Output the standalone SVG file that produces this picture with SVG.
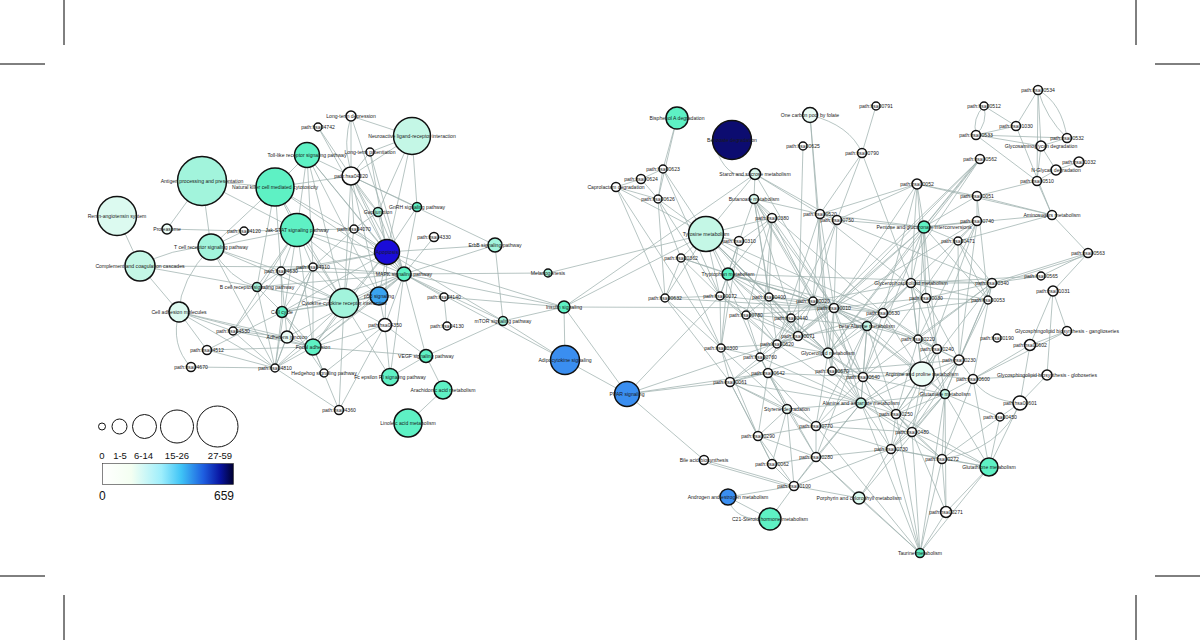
<svg xmlns="http://www.w3.org/2000/svg" width="1200" height="640" viewBox="0 0 1200 640">
<style>
.e line,.e path{stroke:#9fb1af;stroke-width:.75;fill:none}
.n{stroke:#111;stroke-width:1.5}
.t{font-family:"Liberation Sans",Arial,sans-serif;font-size:5.1px;fill:#1a1a1a;text-anchor:middle}
.w{fill:#fff}.l0{fill:#ecfdf7}.l1{fill:#dcfaf0}.l2{fill:#c4f7e6}.l3{fill:#a2f4dc}.g{fill:#5ef1c4}
.b1{fill:#3aa4f0}.b2{fill:#3a8ef0}.b3{fill:#1a0cd8}.b4{fill:#0c0c70}
.crop{stroke:#000;stroke-width:1}
.lg{font-family:"Liberation Sans",Arial,sans-serif;fill:#111}
</style>
<defs>
<linearGradient id="cg" x1="0" x2="1" y1="0" y2="0">
<stop offset="0" stop-color="#ffffff"/>
<stop offset="0.22" stop-color="#f4fff2"/>
<stop offset="0.45" stop-color="#9eeefc"/>
<stop offset="0.6" stop-color="#3fc4f6"/>
<stop offset="0.77" stop-color="#1e5ee0"/>
<stop offset="0.9" stop-color="#0814a0"/>
<stop offset="1" stop-color="#000030"/>
</linearGradient>
</defs>
<rect width="1200" height="640" fill="#fff"/>
<g id="cropmarks">
<line class="crop" x1="64" y1="0" x2="64" y2="45"/><line class="crop" x1="0" y1="64" x2="45" y2="64"/>
<line class="crop" x1="1136" y1="0" x2="1136" y2="45"/><line class="crop" x1="1155" y1="64" x2="1200" y2="64"/>
<line class="crop" x1="64" y1="595" x2="64" y2="640"/><line class="crop" x1="0" y1="576" x2="45" y2="576"/>
<line class="crop" x1="1136" y1="595" x2="1136" y2="640"/><line class="crop" x1="1155" y1="576" x2="1200" y2="576"/>
</g>
<g id="edges" class="e">
<line x1="202" y1="181" x2="275" y2="187"/><line x1="202" y1="181" x2="167" y2="229"/><line x1="202" y1="181" x2="211" y2="247"/><line x1="202" y1="181" x2="297" y2="230"/>
<path d="M211,247 Q170,248 140,266"/><path d="M211,247 Q180,280 179,312"/><path d="M211,247 Q230,280 257,287"/>
<line x1="117" y1="216" x2="140" y2="266"/><line x1="167" y1="229" x2="244" y2="231"/><line x1="244" y1="231" x2="297" y2="230"/><line x1="244" y1="231" x2="211" y2="247"/>
<line x1="211" y1="247" x2="275" y2="368"/><line x1="211" y1="247" x2="275" y2="187"/><line x1="211" y1="247" x2="297" y2="230"/><line x1="211" y1="247" x2="281" y2="271"/><line x1="211" y1="247" x2="344" y2="303"/>
<line x1="140" y1="266" x2="179" y2="312"/><line x1="140" y1="266" x2="257" y2="287"/><line x1="140" y1="266" x2="313" y2="267"/>
<line x1="179" y1="312" x2="233" y2="331"/><path d="M179,312 Q170,345 191,367"/><line x1="179" y1="312" x2="207" y2="350"/><line x1="179" y1="312" x2="287" y2="337"/><line x1="179" y1="312" x2="313" y2="347"/><line x1="179" y1="312" x2="275" y2="368"/>
<line x1="233" y1="331" x2="313" y2="347"/><line x1="233" y1="331" x2="287" y2="337"/><line x1="233" y1="331" x2="275" y2="368"/><line x1="233" y1="331" x2="297" y2="230"/><line x1="233" y1="331" x2="281" y2="271"/>
<line x1="207" y1="350" x2="313" y2="347"/><line x1="207" y1="350" x2="275" y2="368"/><line x1="207" y1="350" x2="282" y2="312"/><line x1="191" y1="367" x2="275" y2="368"/>
<line x1="275" y1="368" x2="313" y2="347"/><line x1="275" y1="368" x2="287" y2="337"/><line x1="275" y1="368" x2="282" y2="312"/><line x1="275" y1="368" x2="257" y2="287"/><line x1="275" y1="368" x2="297" y2="230"/><line x1="275" y1="368" x2="344" y2="303"/><line x1="275" y1="368" x2="313" y2="267"/><line x1="275" y1="368" x2="404" y2="274"/><line x1="275" y1="368" x2="339" y2="410"/>
<line x1="324" y1="373" x2="313" y2="347"/><line x1="324" y1="373" x2="385" y2="325"/><line x1="324" y1="373" x2="282" y2="312"/>
<line x1="339" y1="410" x2="385" y2="325"/><line x1="339" y1="410" x2="344" y2="303"/><line x1="339" y1="410" x2="313" y2="347"/>
<line x1="313" y1="347" x2="287" y2="337"/><line x1="313" y1="347" x2="282" y2="312"/><line x1="313" y1="347" x2="344" y2="303"/><line x1="313" y1="347" x2="385" y2="325"/><line x1="313" y1="347" x2="404" y2="274"/><line x1="313" y1="347" x2="426" y2="356"/><line x1="313" y1="347" x2="313" y2="267"/><line x1="313" y1="347" x2="297" y2="230"/><line x1="313" y1="347" x2="379" y2="296"/><line x1="313" y1="347" x2="387" y2="252"/>
<line x1="282" y1="312" x2="379" y2="296"/><line x1="282" y1="312" x2="344" y2="303"/><line x1="282" y1="312" x2="281" y2="271"/><line x1="282" y1="312" x2="313" y2="267"/><line x1="282" y1="312" x2="404" y2="274"/><line x1="282" y1="312" x2="387" y2="252"/><line x1="282" y1="312" x2="257" y2="287"/>
<line x1="287" y1="337" x2="404" y2="274"/><line x1="287" y1="337" x2="281" y2="271"/><line x1="287" y1="337" x2="313" y2="267"/>
<line x1="257" y1="287" x2="297" y2="230"/><line x1="257" y1="287" x2="281" y2="271"/><line x1="257" y1="287" x2="404" y2="274"/><line x1="257" y1="287" x2="344" y2="303"/><line x1="257" y1="287" x2="275" y2="187"/>
<line x1="281" y1="271" x2="297" y2="230"/><line x1="281" y1="271" x2="344" y2="303"/><line x1="281" y1="271" x2="313" y2="267"/><line x1="281" y1="271" x2="387" y2="252"/><line x1="281" y1="271" x2="404" y2="274"/><line x1="281" y1="271" x2="275" y2="187"/>
<line x1="313" y1="267" x2="297" y2="230"/><line x1="313" y1="267" x2="404" y2="274"/><line x1="313" y1="267" x2="387" y2="252"/><line x1="313" y1="267" x2="344" y2="303"/><line x1="313" y1="267" x2="354" y2="229"/><line x1="313" y1="267" x2="307" y2="155"/>
<line x1="297" y1="230" x2="344" y2="303"/><line x1="297" y1="230" x2="275" y2="187"/><line x1="297" y1="230" x2="307" y2="155"/><line x1="297" y1="230" x2="404" y2="274"/><line x1="297" y1="230" x2="387" y2="252"/><line x1="297" y1="230" x2="354" y2="229"/><line x1="297" y1="230" x2="379" y2="296"/>
<line x1="275" y1="187" x2="307" y2="155"/><line x1="275" y1="187" x2="344" y2="303"/><line x1="275" y1="187" x2="404" y2="274"/><line x1="275" y1="187" x2="387" y2="252"/><line x1="275" y1="187" x2="351" y2="176"/>
<line x1="307" y1="155" x2="351" y2="176"/><line x1="307" y1="155" x2="404" y2="274"/><line x1="307" y1="155" x2="387" y2="252"/><line x1="307" y1="155" x2="344" y2="303"/><line x1="307" y1="155" x2="379" y2="296"/>
<line x1="318" y1="127" x2="351" y2="176"/><line x1="318" y1="127" x2="387" y2="252"/>
<line x1="351" y1="116" x2="351" y2="176"/><line x1="351" y1="116" x2="412" y2="136"/><path d="M351,116 Q335,170 378,212"/><line x1="351" y1="116" x2="404" y2="274"/>
<line x1="370" y1="152" x2="351" y2="176"/><line x1="370" y1="152" x2="412" y2="136"/><line x1="370" y1="152" x2="404" y2="274"/><line x1="370" y1="152" x2="387" y2="252"/>
<line x1="412" y1="136" x2="351" y2="176"/><line x1="412" y1="136" x2="417" y2="207"/><line x1="412" y1="136" x2="378" y2="212"/><line x1="412" y1="136" x2="387" y2="252"/>
<line x1="351" y1="176" x2="378" y2="212"/><line x1="351" y1="176" x2="417" y2="207"/><line x1="351" y1="176" x2="404" y2="274"/><line x1="351" y1="176" x2="387" y2="252"/><line x1="351" y1="176" x2="495" y2="245"/><line x1="351" y1="176" x2="354" y2="229"/><line x1="351" y1="176" x2="344" y2="303"/><line x1="351" y1="176" x2="379" y2="296"/>
<line x1="378" y1="212" x2="404" y2="274"/><line x1="378" y1="212" x2="354" y2="229"/><line x1="378" y1="212" x2="387" y2="252"/>
<line x1="417" y1="207" x2="404" y2="274"/><line x1="417" y1="207" x2="387" y2="252"/>
<line x1="354" y1="229" x2="387" y2="252"/><line x1="354" y1="229" x2="404" y2="274"/><line x1="354" y1="229" x2="344" y2="303"/>
<line x1="434" y1="237" x2="404" y2="274"/>
<line x1="495" y1="245" x2="404" y2="274"/><line x1="495" y1="245" x2="503" y2="321"/><line x1="495" y1="245" x2="387" y2="252"/>
<line x1="387" y1="252" x2="404" y2="274"/><line x1="387" y1="252" x2="379" y2="296"/><line x1="387" y1="252" x2="344" y2="303"/><line x1="387" y1="252" x2="385" y2="325"/><line x1="387" y1="252" x2="564" y2="307"/><line x1="387" y1="252" x2="503" y2="321"/>
<line x1="404" y1="274" x2="379" y2="296"/><line x1="404" y1="274" x2="344" y2="303"/><line x1="404" y1="274" x2="385" y2="325"/><line x1="404" y1="274" x2="444" y2="297"/><line x1="404" y1="274" x2="548" y2="273"/><line x1="404" y1="274" x2="564" y2="307"/><line x1="404" y1="274" x2="503" y2="321"/><line x1="404" y1="274" x2="565" y2="360"/><line x1="404" y1="274" x2="426" y2="356"/><line x1="404" y1="274" x2="390" y2="377"/>
<line x1="444" y1="297" x2="447" y2="326"/><line x1="444" y1="297" x2="564" y2="307"/>
<line x1="379" y1="296" x2="385" y2="325"/><line x1="379" y1="296" x2="344" y2="303"/>
<line x1="344" y1="303" x2="385" y2="325"/><line x1="344" y1="303" x2="390" y2="377"/>
<line x1="385" y1="325" x2="426" y2="356"/><line x1="385" y1="325" x2="390" y2="377"/>
<line x1="503" y1="321" x2="564" y2="307"/><line x1="503" y1="321" x2="565" y2="360"/><line x1="503" y1="321" x2="426" y2="356"/>
<line x1="426" y1="356" x2="443" y2="390"/><line x1="426" y1="356" x2="390" y2="377"/><line x1="443" y1="390" x2="408" y2="423"/>
<line x1="548" y1="273" x2="706" y2="234"/><line x1="564" y1="307" x2="565" y2="360"/><line x1="564" y1="307" x2="627" y2="394"/><line x1="565" y1="360" x2="627" y2="394"/>
<line x1="564" y1="307" x2="834" y2="308"/><line x1="564" y1="307" x2="755" y2="174"/><line x1="564" y1="307" x2="706" y2="234"/>
<line x1="677" y1="118" x2="658" y2="199"/><line x1="677" y1="118" x2="663" y2="169"/><line x1="663" y1="169" x2="658" y2="199"/><line x1="663" y1="169" x2="641" y2="179"/><line x1="641" y1="179" x2="658" y2="199"/><line x1="641" y1="179" x2="616" y2="187"/>
<line x1="616" y1="187" x2="658" y2="199"/><line x1="616" y1="187" x2="706" y2="234"/><line x1="616" y1="187" x2="665" y2="298"/><line x1="616" y1="187" x2="721" y2="348"/>
<line x1="658" y1="199" x2="706" y2="234"/><line x1="658" y1="199" x2="681" y2="258"/><line x1="658" y1="199" x2="665" y2="298"/><line x1="658" y1="199" x2="720" y2="296"/><line x1="663" y1="169" x2="706" y2="234"/><line x1="663" y1="169" x2="720" y2="296"/>
<path d="M718,154 Q730,182 755,174"/>
<line x1="755" y1="174" x2="754" y2="199"/><line x1="755" y1="174" x2="820" y2="214"/><line x1="755" y1="174" x2="837" y2="220"/><line x1="755" y1="174" x2="706" y2="234"/><line x1="755" y1="174" x2="834" y2="308"/>
<line x1="754" y1="199" x2="772" y2="218"/><line x1="754" y1="199" x2="739" y2="241"/><line x1="754" y1="199" x2="813" y2="301"/><line x1="754" y1="199" x2="769" y2="297"/><line x1="754" y1="199" x2="820" y2="214"/><line x1="754" y1="199" x2="777" y2="344"/><line x1="754" y1="199" x2="863" y2="377"/><line x1="754" y1="199" x2="834" y2="308"/><line x1="754" y1="199" x2="798" y2="336"/><line x1="754" y1="199" x2="883" y2="313"/>
<line x1="803" y1="146" x2="798" y2="336"/>
<path d="M810,115 Q850,125 862,153"/><line x1="810" y1="115" x2="832" y2="371"/><line x1="810" y1="115" x2="828" y2="353"/>
<line x1="876" y1="106" x2="862" y2="153"/><line x1="862" y1="153" x2="837" y2="220"/><line x1="862" y1="153" x2="820" y2="214"/><line x1="862" y1="153" x2="911" y2="283"/>
<line x1="820" y1="214" x2="837" y2="220"/><line x1="820" y1="214" x2="813" y2="301"/><line x1="820" y1="214" x2="834" y2="308"/><line x1="820" y1="214" x2="924" y2="227"/><line x1="820" y1="214" x2="926" y2="298"/><line x1="820" y1="214" x2="777" y2="344"/>
<line x1="837" y1="220" x2="917" y2="184"/><line x1="837" y1="220" x2="834" y2="308"/><line x1="837" y1="220" x2="813" y2="301"/><line x1="837" y1="220" x2="791" y2="318"/><line x1="837" y1="220" x2="924" y2="227"/><line x1="837" y1="220" x2="992" y2="283"/>
<line x1="772" y1="218" x2="739" y2="241"/><line x1="772" y1="218" x2="769" y2="297"/><line x1="772" y1="218" x2="746" y2="315"/><line x1="772" y1="218" x2="813" y2="301"/><line x1="772" y1="218" x2="834" y2="308"/><line x1="772" y1="218" x2="760" y2="357"/>
<line x1="739" y1="241" x2="706" y2="234"/><line x1="739" y1="241" x2="728" y2="274"/><line x1="739" y1="241" x2="721" y2="348"/><line x1="739" y1="241" x2="720" y2="296"/>
<line x1="706" y1="234" x2="728" y2="274"/><line x1="706" y1="234" x2="681" y2="258"/><line x1="706" y1="234" x2="769" y2="297"/><line x1="706" y1="234" x2="665" y2="298"/><line x1="706" y1="234" x2="720" y2="296"/><line x1="706" y1="234" x2="760" y2="357"/><line x1="706" y1="234" x2="813" y2="301"/><line x1="706" y1="234" x2="828" y2="353"/><line x1="706" y1="234" x2="883" y2="313"/>
<line x1="706" y1="234" x2="772" y2="218"/><line x1="706" y1="234" x2="798" y2="336"/><line x1="706" y1="234" x2="791" y2="318"/>
<line x1="728" y1="274" x2="681" y2="258"/><line x1="728" y1="274" x2="720" y2="296"/><line x1="728" y1="274" x2="769" y2="297"/><line x1="728" y1="274" x2="772" y2="218"/><line x1="728" y1="274" x2="813" y2="301"/><line x1="728" y1="274" x2="834" y2="308"/><line x1="728" y1="274" x2="992" y2="283"/><line x1="728" y1="274" x2="883" y2="313"/><line x1="728" y1="274" x2="721" y2="348"/>
<line x1="728" y1="274" x2="798" y2="336"/><line x1="728" y1="274" x2="828" y2="353"/><line x1="728" y1="274" x2="777" y2="344"/>
<line x1="681" y1="258" x2="665" y2="298"/><line x1="681" y1="258" x2="720" y2="296"/><line x1="665" y1="298" x2="720" y2="296"/><line x1="665" y1="298" x2="721" y2="348"/>
<line x1="681" y1="258" x2="813" y2="301"/><line x1="681" y1="258" x2="721" y2="348"/><line x1="665" y1="298" x2="730" y2="382"/><line x1="665" y1="298" x2="834" y2="308"/>
<line x1="720" y1="296" x2="746" y2="315"/><line x1="720" y1="296" x2="721" y2="348"/><line x1="720" y1="296" x2="834" y2="308"/>
<line x1="720" y1="296" x2="777" y2="344"/><line x1="720" y1="296" x2="798" y2="336"/>
<line x1="769" y1="297" x2="813" y2="301"/><line x1="769" y1="297" x2="834" y2="308"/><line x1="769" y1="297" x2="791" y2="318"/><line x1="769" y1="297" x2="746" y2="315"/>
<line x1="769" y1="297" x2="798" y2="336"/><line x1="769" y1="297" x2="828" y2="353"/>
<line x1="813" y1="301" x2="834" y2="308"/><line x1="813" y1="301" x2="777" y2="344"/><line x1="813" y1="301" x2="798" y2="336"/><line x1="813" y1="301" x2="791" y2="318"/><line x1="813" y1="301" x2="867" y2="326"/><line x1="813" y1="301" x2="883" y2="313"/><line x1="813" y1="301" x2="911" y2="283"/>
<line x1="813" y1="301" x2="828" y2="353"/><line x1="813" y1="301" x2="861" y2="403"/><line x1="813" y1="301" x2="863" y2="377"/>
<line x1="834" y1="308" x2="883" y2="313"/><line x1="834" y1="308" x2="867" y2="326"/><line x1="834" y1="308" x2="828" y2="353"/><line x1="834" y1="308" x2="798" y2="336"/><line x1="834" y1="308" x2="777" y2="344"/><line x1="834" y1="308" x2="926" y2="298"/><line x1="834" y1="308" x2="924" y2="227"/><line x1="834" y1="308" x2="918" y2="339"/><line x1="834" y1="308" x2="937" y2="349"/><line x1="834" y1="308" x2="832" y2="371"/><line x1="834" y1="308" x2="922" y2="374"/><line x1="834" y1="308" x2="863" y2="377"/>
<line x1="834" y1="308" x2="861" y2="403"/><line x1="834" y1="308" x2="945" y2="394"/>
<line x1="746" y1="315" x2="791" y2="318"/><line x1="746" y1="315" x2="777" y2="344"/><line x1="746" y1="315" x2="760" y2="357"/><line x1="746" y1="315" x2="798" y2="336"/><line x1="746" y1="315" x2="834" y2="308"/>
<line x1="791" y1="318" x2="798" y2="336"/><line x1="791" y1="318" x2="777" y2="344"/><line x1="791" y1="318" x2="760" y2="357"/><line x1="791" y1="318" x2="867" y2="326"/><line x1="791" y1="318" x2="828" y2="353"/>
<line x1="798" y1="336" x2="777" y2="344"/><line x1="798" y1="336" x2="867" y2="326"/><line x1="798" y1="336" x2="828" y2="353"/><line x1="798" y1="336" x2="863" y2="377"/><line x1="798" y1="336" x2="730" y2="382"/>
<line x1="777" y1="344" x2="760" y2="357"/><line x1="777" y1="344" x2="721" y2="348"/><line x1="777" y1="344" x2="768" y2="373"/><line x1="777" y1="344" x2="828" y2="353"/><line x1="777" y1="344" x2="861" y2="403"/><line x1="777" y1="344" x2="883" y2="313"/>
<line x1="721" y1="348" x2="760" y2="357"/><line x1="721" y1="348" x2="730" y2="382"/><line x1="721" y1="348" x2="787" y2="409"/><line x1="721" y1="348" x2="758" y2="436"/>
<line x1="760" y1="357" x2="768" y2="373"/><line x1="760" y1="357" x2="730" y2="382"/><line x1="760" y1="357" x2="787" y2="409"/><line x1="760" y1="357" x2="861" y2="403"/><line x1="760" y1="357" x2="816" y2="457"/>
<line x1="828" y1="353" x2="832" y2="371"/><line x1="828" y1="353" x2="863" y2="377"/><line x1="828" y1="353" x2="867" y2="326"/><line x1="828" y1="353" x2="911" y2="283"/><line x1="828" y1="353" x2="730" y2="382"/><line x1="828" y1="353" x2="861" y2="403"/><line x1="828" y1="353" x2="816" y2="426"/>
<line x1="832" y1="371" x2="863" y2="377"/><line x1="832" y1="371" x2="922" y2="374"/><line x1="832" y1="371" x2="959" y2="360"/><line x1="832" y1="371" x2="861" y2="403"/><line x1="832" y1="371" x2="896" y2="414"/>
<line x1="768" y1="373" x2="730" y2="382"/><line x1="768" y1="373" x2="787" y2="409"/><line x1="768" y1="373" x2="861" y2="403"/><line x1="768" y1="373" x2="863" y2="377"/><line x1="768" y1="373" x2="758" y2="436"/><line x1="768" y1="373" x2="816" y2="426"/>
<line x1="730" y1="382" x2="787" y2="409"/><line x1="730" y1="382" x2="861" y2="403"/><line x1="730" y1="382" x2="758" y2="436"/><line x1="730" y1="382" x2="816" y2="426"/><line x1="730" y1="382" x2="772" y2="464"/>
<line x1="867" y1="326" x2="883" y2="313"/><line x1="867" y1="326" x2="911" y2="283"/><line x1="867" y1="326" x2="863" y2="377"/><line x1="867" y1="326" x2="861" y2="403"/><line x1="867" y1="326" x2="816" y2="426"/><line x1="867" y1="326" x2="816" y2="457"/>
<line x1="867" y1="326" x2="922" y2="374"/><line x1="867" y1="326" x2="918" y2="339"/><line x1="867" y1="326" x2="896" y2="414"/>
<line x1="883" y1="313" x2="911" y2="283"/><line x1="883" y1="313" x2="926" y2="298"/><line x1="883" y1="313" x2="918" y2="339"/><line x1="883" y1="313" x2="937" y2="349"/><line x1="883" y1="313" x2="988" y2="300"/><line x1="883" y1="313" x2="922" y2="374"/><line x1="883" y1="313" x2="863" y2="377"/>
<line x1="911" y1="283" x2="926" y2="298"/><line x1="911" y1="283" x2="992" y2="283"/><line x1="911" y1="283" x2="988" y2="300"/><line x1="911" y1="283" x2="924" y2="227"/><line x1="911" y1="283" x2="917" y2="184"/><line x1="911" y1="283" x2="918" y2="339"/><line x1="911" y1="283" x2="937" y2="349"/><line x1="911" y1="283" x2="922" y2="374"/>
<line x1="926" y1="298" x2="988" y2="300"/><line x1="926" y1="298" x2="924" y2="227"/><line x1="926" y1="298" x2="937" y2="349"/><line x1="926" y1="298" x2="959" y2="360"/><line x1="926" y1="298" x2="992" y2="283"/>
<line x1="988" y1="300" x2="992" y2="283"/><line x1="988" y1="300" x2="924" y2="227"/><line x1="988" y1="300" x2="959" y2="360"/><line x1="988" y1="300" x2="958" y2="241"/>
<line x1="992" y1="283" x2="958" y2="241"/><line x1="992" y1="283" x2="1088" y2="253"/><line x1="992" y1="285" x2="1088" y2="255"/><line x1="992" y1="283" x2="1041" y2="276"/><line x1="992" y1="283" x2="959" y2="360"/><line x1="992" y1="283" x2="918" y2="339"/><line x1="992" y1="283" x2="863" y2="377"/>
<line x1="992" y1="283" x2="922" y2="374"/><line x1="992" y1="283" x2="973" y2="379"/><line x1="992" y1="283" x2="945" y2="394"/>
<line x1="1041" y1="276" x2="1088" y2="253"/><line x1="1041" y1="276" x2="911" y2="283"/>
<line x1="958" y1="241" x2="924" y2="227"/><line x1="958" y1="241" x2="977" y2="221"/><line x1="958" y1="241" x2="959" y2="360"/><line x1="958" y1="241" x2="1052" y2="215"/><line x1="958" y1="241" x2="863" y2="377"/>
<line x1="977" y1="221" x2="911" y2="283"/><line x1="977" y1="221" x2="959" y2="360"/><line x1="977" y1="221" x2="922" y2="374"/><line x1="977" y1="221" x2="834" y2="308"/><line x1="977" y1="221" x2="918" y2="339"/>
<line x1="924" y1="227" x2="917" y2="184"/><line x1="924" y1="227" x2="977" y2="196"/><line x1="924" y1="227" x2="977" y2="221"/><line x1="924" y1="227" x2="980" y2="159"/><line x1="922" y1="229" x2="978" y2="160"/><line x1="924" y1="227" x2="1052" y2="215"/><line x1="924" y1="227" x2="918" y2="339"/><line x1="924" y1="227" x2="863" y2="377"/><line x1="924" y1="227" x2="828" y2="353"/><line x1="924" y1="227" x2="798" y2="336"/><line x1="924" y1="227" x2="937" y2="349"/>
<line x1="980" y1="159" x2="867" y2="326"/><line x1="980" y1="159" x2="834" y2="308"/><line x1="980" y1="159" x2="828" y2="353"/><line x1="980" y1="159" x2="798" y2="336"/>
<line x1="917" y1="184" x2="977" y2="196"/><line x1="917" y1="184" x2="820" y2="214"/><line x1="917" y1="184" x2="926" y2="298"/><line x1="917" y1="184" x2="883" y2="313"/><line x1="917" y1="184" x2="834" y2="308"/>
<line x1="977" y1="196" x2="977" y2="221"/><line x1="977" y1="196" x2="1037" y2="181"/><line x1="977" y1="196" x2="1052" y2="215"/><line x1="977" y1="196" x2="988" y2="300"/>
<line x1="1052" y1="215" x2="1037" y2="181"/><line x1="1052" y1="215" x2="1088" y2="253"/><line x1="1052" y1="215" x2="917" y2="184"/>
<line x1="1088" y1="253" x2="1053" y2="291"/><line x1="1053" y1="291" x2="1067" y2="331"/><line x1="1053" y1="291" x2="1030" y2="345"/><line x1="1053" y1="291" x2="1047" y2="375"/>
<line x1="1067" y1="331" x2="1030" y2="345"/><line x1="1067" y1="331" x2="973" y2="379"/><line x1="1030" y1="345" x2="973" y2="379"/><line x1="1030" y1="345" x2="1020" y2="403"/>
<line x1="1047" y1="375" x2="973" y2="379"/><line x1="1047" y1="375" x2="1020" y2="403"/><path d="M973,379 Q985,400 1020,403"/>
<line x1="1038" y1="90" x2="1016" y2="126"/><path d="M1038,90 Q1062,103 1067,138"/><path d="M1038,90 Q1046,118 1067,138"/><line x1="1038" y1="90" x2="1041" y2="146"/><line x1="1038" y1="90" x2="1037" y2="181"/>
<path d="M984,106 Q972,118 976,135"/><path d="M984,106 Q988,123 976,135"/><line x1="984" y1="106" x2="1016" y2="126"/>
<line x1="1016" y1="126" x2="976" y2="135"/><line x1="1016" y1="126" x2="1052" y2="215"/>
<line x1="976" y1="135" x2="1067" y2="138"/><line x1="976" y1="135" x2="1037" y2="181"/><line x1="976" y1="135" x2="1041" y2="146"/>
<line x1="1041" y1="146" x2="1056" y2="170"/><line x1="1041" y1="146" x2="1037" y2="181"/><line x1="1041" y1="146" x2="1067" y2="138"/>
<line x1="1079" y1="162" x2="1056" y2="170"/><line x1="1056" y1="170" x2="1037" y2="181"/>
<line x1="918" y1="339" x2="937" y2="349"/><line x1="918" y1="339" x2="922" y2="374"/><line x1="918" y1="339" x2="896" y2="414"/><line x1="918" y1="339" x2="945" y2="394"/><line x1="918" y1="339" x2="959" y2="360"/>
<line x1="937" y1="349" x2="959" y2="360"/><line x1="937" y1="349" x2="922" y2="374"/><line x1="937" y1="349" x2="896" y2="414"/><line x1="937" y1="349" x2="912" y2="432"/><line x1="937" y1="349" x2="945" y2="394"/><line x1="937" y1="349" x2="861" y2="403"/>
<line x1="959" y1="360" x2="973" y2="379"/><line x1="959" y1="360" x2="945" y2="394"/><line x1="959" y1="360" x2="891" y2="449"/><line x1="959" y1="360" x2="922" y2="374"/><line x1="959" y1="360" x2="896" y2="414"/><line x1="959" y1="360" x2="912" y2="432"/>
<line x1="922" y1="374" x2="945" y2="394"/><line x1="922" y1="374" x2="973" y2="379"/><line x1="922" y1="374" x2="863" y2="377"/><line x1="922" y1="374" x2="896" y2="414"/><line x1="922" y1="374" x2="861" y2="403"/><line x1="922" y1="374" x2="912" y2="432"/><line x1="922" y1="374" x2="891" y2="449"/>
<line x1="863" y1="377" x2="861" y2="403"/><line x1="863" y1="377" x2="896" y2="414"/><line x1="863" y1="377" x2="945" y2="394"/><line x1="863" y1="377" x2="912" y2="432"/><line x1="863" y1="377" x2="816" y2="426"/><line x1="863" y1="377" x2="891" y2="449"/>
<line x1="973" y1="379" x2="945" y2="394"/><line x1="973" y1="379" x2="942" y2="459"/><line x1="973" y1="379" x2="989" y2="467"/>
<line x1="945" y1="394" x2="896" y2="414"/><line x1="945" y1="394" x2="912" y2="432"/><line x1="945" y1="394" x2="861" y2="403"/><line x1="945" y1="394" x2="989" y2="467"/><line x1="945" y1="394" x2="942" y2="459"/><line x1="945" y1="394" x2="891" y2="449"/><line x1="945" y1="394" x2="920" y2="553"/><line x1="945" y1="394" x2="946" y2="512"/><line x1="945" y1="394" x2="859" y2="498"/>
<line x1="861" y1="403" x2="896" y2="414"/><line x1="861" y1="403" x2="816" y2="426"/><line x1="861" y1="403" x2="912" y2="432"/><line x1="861" y1="403" x2="891" y2="449"/><line x1="861" y1="403" x2="787" y2="409"/><line x1="861" y1="403" x2="816" y2="457"/><line x1="861" y1="403" x2="794" y2="486"/><line x1="861" y1="403" x2="942" y2="459"/><line x1="861" y1="403" x2="920" y2="553"/>
<line x1="787" y1="409" x2="816" y2="426"/><line x1="787" y1="409" x2="758" y2="436"/><line x1="787" y1="409" x2="772" y2="464"/><line x1="787" y1="409" x2="816" y2="457"/><line x1="787" y1="409" x2="794" y2="486"/>
<line x1="896" y1="414" x2="912" y2="432"/><line x1="896" y1="414" x2="816" y2="426"/><line x1="896" y1="414" x2="891" y2="449"/><line x1="896" y1="414" x2="989" y2="467"/><line x1="896" y1="414" x2="942" y2="459"/><line x1="896" y1="414" x2="920" y2="553"/>
<line x1="816" y1="426" x2="758" y2="436"/><line x1="816" y1="426" x2="816" y2="457"/><line x1="816" y1="426" x2="912" y2="432"/><line x1="816" y1="426" x2="891" y2="449"/><line x1="816" y1="426" x2="920" y2="553"/>
<line x1="912" y1="432" x2="891" y2="449"/><line x1="912" y1="432" x2="942" y2="459"/><line x1="912" y1="432" x2="989" y2="467"/><line x1="912" y1="432" x2="920" y2="553"/><line x1="912" y1="432" x2="946" y2="512"/>
<line x1="891" y1="449" x2="859" y2="498"/><line x1="891" y1="449" x2="942" y2="459"/><line x1="891" y1="449" x2="816" y2="457"/><line x1="891" y1="449" x2="794" y2="486"/><line x1="891" y1="449" x2="920" y2="553"/><line x1="891" y1="449" x2="989" y2="467"/>
<line x1="758" y1="436" x2="772" y2="464"/><line x1="758" y1="436" x2="816" y2="457"/><line x1="758" y1="436" x2="794" y2="486"/>
<line x1="816" y1="457" x2="794" y2="486"/><line x1="816" y1="457" x2="772" y2="464"/><line x1="816" y1="457" x2="920" y2="553"/>
<line x1="942" y1="459" x2="989" y2="467"/><line x1="942" y1="459" x2="946" y2="512"/><line x1="942" y1="459" x2="920" y2="553"/><line x1="942" y1="459" x2="1000" y2="417"/><path d="M1020,403 Q1000,450 942,459"/>
<line x1="772" y1="464" x2="794" y2="486"/>
<line x1="704" y1="460" x2="794" y2="486"/><line x1="704" y1="462" x2="794" y2="488"/><line x1="704" y1="460" x2="627" y2="394"/>
<line x1="794" y1="486" x2="770" y2="519"/><line x1="794" y1="486" x2="728" y2="497"/><line x1="794" y1="486" x2="859" y2="498"/>
<path d="M728,497 Q733,522 770,519"/><line x1="728" y1="497" x2="770" y2="519"/>
<line x1="859" y1="498" x2="920" y2="553"/><line x1="859" y1="498" x2="816" y2="457"/>
<line x1="946" y1="512" x2="920" y2="553"/><line x1="989" y1="467" x2="920" y2="553"/><line x1="989" y1="467" x2="946" y2="512"/>
<line x1="1000" y1="417" x2="945" y2="394"/><line x1="1000" y1="417" x2="1020" y2="403"/><line x1="989" y1="467" x2="1020" y2="403"/><line x1="989" y1="467" x2="1000" y2="417"/>
<line x1="627" y1="394" x2="730" y2="382"/><line x1="627" y1="394" x2="768" y2="373"/><line x1="627" y1="394" x2="720" y2="296"/><line x1="627" y1="394" x2="798" y2="336"/>
</g>
<g id="nodes">
<g id="n-ltd"><circle class="n w" cx="351" cy="116" r="5"/><text class="t" x="351" y="117.8">Long-term depression</text></g>
<g id="n-p4742"><circle class="n w" cx="318" cy="127" r="4"/><text class="t" x="318" y="128.8">path:hsa04742</text></g>
<g id="n-neuro"><circle class="n l2" cx="412" cy="136" r="18.5"/><text class="t" x="412" y="137.8">Neuroactive ligand-receptor interaction</text></g>
<g id="n-toll"><circle class="n g" cx="307" cy="155" r="12.5"/><text class="t" x="307" y="156.8">Toll-like receptor signaling pathway</text></g>
<g id="n-ltp"><circle class="n w" cx="370" cy="152" r="4"/><text class="t" x="370" y="153.8">Long-term potentiation</text></g>
<g id="n-p4020"><circle class="n w" cx="351" cy="176" r="9"/><text class="t" x="351" y="177.8">path:hsa04020</text></g>
<g id="n-antigen"><circle class="n l3" cx="202" cy="181" r="24.5"/><text class="t" x="202" y="182.8">Antigen processing and presentation</text></g>
<g id="n-nk"><circle class="n g" cx="275" cy="187" r="19"/><text class="t" x="275" y="188.8">Natural killer cell mediated cytotoxicity</text></g>
<g id="n-gnrh"><circle class="n g" cx="417" cy="207" r="4.5"/><text class="t" x="417" y="208.8">GnRH signaling pathway</text></g>
<g id="n-gap"><circle class="n l3" cx="378" cy="212" r="4.5"/><text class="t" x="378" y="213.8">Gap junction</text></g>
<g id="n-renin"><circle class="n l1" cx="117" cy="216" r="19.5"/><text class="t" x="117" y="217.8">Renin-angiotensin system</text></g>
<g id="n-protea"><circle class="n l0" cx="167" cy="229" r="5"/><text class="t" x="167" y="230.8">Proteasome</text></g>
<g id="n-p4120"><circle class="n w" cx="244" cy="231" r="4"/><text class="t" x="244" y="232.8">path:hsa04120</text></g>
<g id="n-jak"><circle class="n g" cx="297" cy="230" r="16.5"/><text class="t" x="297" y="231.8">Jak-STAT signaling pathway</text></g>
<g id="n-p4070"><circle class="n w" cx="354" cy="229" r="4"/><text class="t" x="354" y="230.8">path:hsa04070</text></g>
<g id="n-p4330"><circle class="n w" cx="434" cy="237" r="4.5"/><text class="t" x="434" y="238.8">path:hsa04330</text></g>
<g id="n-tcell"><circle class="n l3" cx="211" cy="247" r="13"/><text class="t" x="211" y="248.8">T cell receptor signaling pathway</text></g>
<g id="n-erbb"><circle class="n l3" cx="495" cy="245" r="7"/><text class="t" x="495" y="246.8">ErbB signaling pathway</text></g>
<g id="n-apop"><circle class="n b3" cx="387" cy="252" r="12.5"/><text class="t" x="387" y="253.8">Apoptosis</text></g>
<g id="n-compl"><circle class="n l2" cx="140" cy="266" r="15"/><text class="t" x="140" y="267.8">Complement and coagulation cascades</text></g>
<g id="n-p4630"><circle class="n w" cx="281" cy="271" r="4"/><text class="t" x="281" y="272.8">path:hsa04630</text></g>
<g id="n-p4910"><circle class="n w" cx="313" cy="267" r="4"/><text class="t" x="313" y="268.8">path:hsa04910</text></g>
<g id="n-mapk"><circle class="n g" cx="404" cy="274" r="7"/><text class="t" x="404" y="275.8">MAPK signaling pathway</text></g>
<g id="n-melano"><circle class="n l3" cx="548" cy="273" r="4"/><text class="t" x="548" y="274.8">Melanogenesis</text></g>
<g id="n-bcell"><circle class="n l3" cx="257" cy="287" r="4.5"/><text class="t" x="257" y="288.8">B cell receptor signaling pathway</text></g>
<g id="n-p53"><circle class="n b1" cx="379" cy="296" r="9"/><text class="t" x="379" y="297.8">p53 signaling</text></g>
<g id="n-p4140"><circle class="n w" cx="444" cy="297" r="4"/><text class="t" x="444" y="298.8">path:hsa04140</text></g>
<g id="n-cytok"><circle class="n l3" cx="344" cy="303" r="14.5"/><text class="t" x="344" y="304.8">Cytokine-cytokine receptor interaction</text></g>
<g id="n-insulin"><circle class="n g" cx="564" cy="307" r="6"/><text class="t" x="564" y="308.8">Insulin signaling</text></g>
<g id="n-cam"><circle class="n l1" cx="179" cy="312" r="10"/><text class="t" x="179" y="313.8">Cell adhesion molecules</text></g>
<g id="n-ccycle"><circle class="n g" cx="282" cy="312" r="5.5"/><text class="t" x="282" y="313.8">Cell cycle</text></g>
<g id="n-mtor"><circle class="n l3" cx="503" cy="321" r="4.5"/><text class="t" x="503" y="322.8">mTOR signaling pathway</text></g>
<g id="n-p4350"><circle class="n w" cx="385" cy="325" r="6.5"/><text class="t" x="385" y="326.8">path:hsa04350</text></g>
<g id="n-p4130"><circle class="n w" cx="447" cy="326" r="4"/><text class="t" x="447" y="327.8">path:hsa04130</text></g>
<g id="n-p4530"><circle class="n w" cx="233" cy="331" r="4"/><text class="t" x="233" y="332.8">path:hsa04530</text></g>
<g id="n-adher"><circle class="n l0" cx="287" cy="337" r="6"/><text class="t" x="287" y="338.8">Adherens junction</text></g>
<g id="n-focal"><circle class="n g" cx="313" cy="347" r="8"/><text class="t" x="313" y="348.8">Focal adhesion</text></g>
<g id="n-p4512"><circle class="n w" cx="207" cy="350" r="4.5"/><text class="t" x="207" y="351.8">path:hsa04512</text></g>
<g id="n-vegf"><circle class="n g" cx="426" cy="356" r="6.5"/><text class="t" x="426" y="357.8">VEGF signaling pathway</text></g>
<g id="n-adipo"><circle class="n b2" cx="565" cy="360" r="14.5"/><text class="t" x="565" y="361.8">Adipocytokine signaling</text></g>
<g id="n-p4670"><circle class="n w" cx="191" cy="367" r="4.5"/><text class="t" x="191" y="368.8">path:hsa04670</text></g>
<g id="n-p4810"><circle class="n w" cx="275" cy="368" r="4"/><text class="t" x="275" y="369.8">path:hsa04810</text></g>
<g id="n-hedge"><circle class="n w" cx="324" cy="373" r="4"/><text class="t" x="324" y="374.8">Hedgehog signaling pathway</text></g>
<g id="n-fceri"><circle class="n g" cx="390" cy="377" r="8.5"/><text class="t" x="390" y="378.8">Fc epsilon RI signaling pathway</text></g>
<g id="n-arach"><circle class="n g" cx="443" cy="390" r="9"/><text class="t" x="443" y="391.8">Arachidonic acid metabolism</text></g>
<g id="n-p4360"><circle class="n w" cx="339" cy="410" r="4.5"/><text class="t" x="339" y="411.8">path:hsa04360</text></g>
<g id="n-linol"><circle class="n g" cx="408" cy="423" r="14"/><text class="t" x="408" y="424.8">Linoleic acid metabolism</text></g>

<g id="n-p0534"><circle class="n w" cx="1038" cy="90" r="4.5"/><text class="t" x="1038" y="91.8">path:hsa00534</text></g>
<g id="n-p0791"><circle class="n w" cx="876" cy="106" r="4"/><text class="t" x="876" y="107.8">path:hsa00791</text></g>
<g id="n-p0512"><circle class="n w" cx="984" cy="106" r="4"/><text class="t" x="984" y="107.8">path:hsa00512</text></g>
<g id="n-bisph"><circle class="n g" cx="677" cy="118" r="11"/><text class="t" x="677" y="119.8">Bisphenol A degradation</text></g>
<g id="n-carbon"><circle class="n l0" cx="810" cy="115" r="7.5"/><text class="t" x="810" y="116.8">One carbon pool by folate</text></g>
<g id="n-p1030"><circle class="n w" cx="1016" cy="126" r="4.5"/><text class="t" x="1016" y="127.8">path:hsa01030</text></g>
<g id="n-p0533"><circle class="n w" cx="976" cy="135" r="4.5"/><text class="t" x="976" y="136.8">path:hsa00533</text></g>
<g id="n-p0532"><circle class="n w" cx="1067" cy="138" r="4.5"/><text class="t" x="1067" y="139.8">path:hsa00532</text></g>
<g id="n-navy"><circle class="n b4" cx="732" cy="140" r="19.5"/><text class="t" x="732" y="141.8">Benzoate degradation</text></g>
<g id="n-gag"><circle class="n w" cx="1041" cy="146" r="5"/><text class="t" x="1041" y="147.8">Glycosaminoglycan degradation</text></g>
<g id="n-p0625"><circle class="n w" cx="803" cy="146" r="4"/><text class="t" x="803" y="147.8">path:hsa00625</text></g>
<g id="n-p0790"><circle class="n w" cx="862" cy="153" r="4.5"/><text class="t" x="862" y="154.8">path:hsa00790</text></g>
<g id="n-p0562"><circle class="n w" cx="980" cy="159" r="4.5"/><text class="t" x="980" y="160.8">path:hsa00562</text></g>
<g id="n-p1032"><circle class="n w" cx="1079" cy="162" r="5"/><text class="t" x="1079" y="163.8">path:hsa01032</text></g>
<g id="n-p0623"><circle class="n w" cx="663" cy="169" r="4"/><text class="t" x="663" y="170.8">path:hsa00623</text></g>
<g id="n-nglycan"><circle class="n w" cx="1056" cy="170" r="5"/><text class="t" x="1056" y="171.8">N-Glycan degradation</text></g>
<g id="n-starch"><circle class="n l1" cx="755" cy="174" r="5.5"/><text class="t" x="755" y="175.8">Starch and sucrose metabolism</text></g>
<g id="n-p0624"><circle class="n w" cx="641" cy="179" r="4.5"/><text class="t" x="641" y="180.8">path:hsa00624</text></g>
<g id="n-p0510"><circle class="n w" cx="1037" cy="181" r="4.5"/><text class="t" x="1037" y="182.8">path:hsa00510</text></g>
<g id="n-p0052"><circle class="n w" cx="917" cy="184" r="5"/><text class="t" x="917" y="185.8">path:hsa00052</text></g>
<g id="n-capro"><circle class="n w" cx="616" cy="187" r="4.5"/><text class="t" x="616" y="188.8">Caprolactam degradation</text></g>
<g id="n-p0051"><circle class="n w" cx="977" cy="196" r="4.5"/><text class="t" x="977" y="197.8">path:hsa00051</text></g>
<g id="n-p0626"><circle class="n w" cx="658" cy="199" r="4"/><text class="t" x="658" y="200.8">path:hsa00626</text></g>
<g id="n-butan"><circle class="n l1" cx="754" cy="199" r="4.5"/><text class="t" x="754" y="200.8">Butanoate metabolism</text></g>
<g id="n-p0520"><circle class="n w" cx="820" cy="214" r="4.5"/><text class="t" x="820" y="215.8">path:hsa00520</text></g>
<g id="n-amino"><circle class="n w" cx="1052" cy="215" r="4.5"/><text class="t" x="1052" y="216.8">Aminosugars metabolism</text></g>
<g id="n-p0380"><circle class="n w" cx="772" cy="218" r="4.5"/><text class="t" x="772" y="219.8">path:hsa00380</text></g>
<g id="n-p0750"><circle class="n w" cx="837" cy="220" r="4.5"/><text class="t" x="837" y="221.8">path:hsa00750</text></g>
<g id="n-p0740"><circle class="n w" cx="977" cy="221" r="4.5"/><text class="t" x="977" y="222.8">path:hsa00740</text></g>
<g id="n-pentose"><circle class="n g" cx="924" cy="227" r="6"/><text class="t" x="924" y="228.8">Pentose and glucuronate interconversions</text></g>
<g id="n-tyros"><circle class="n l2" cx="706" cy="234" r="17.5"/><text class="t" x="706" y="235.8">Tyrosine metabolism</text></g>
<g id="n-p0310"><circle class="n w" cx="739" cy="241" r="4.5"/><text class="t" x="739" y="242.8">path:hsa00310</text></g>
<g id="n-p0471"><circle class="n w" cx="958" cy="241" r="4"/><text class="t" x="958" y="242.8">path:hsa00471</text></g>
<g id="n-p0563"><circle class="n w" cx="1088" cy="253" r="4.5"/><text class="t" x="1088" y="254.8">path:hsa00563</text></g>
<g id="n-p0362"><circle class="n w" cx="681" cy="258" r="4"/><text class="t" x="681" y="259.8">path:hsa00362</text></g>
<g id="n-trypt"><circle class="n g" cx="728" cy="274" r="6"/><text class="t" x="728" y="275.8">Tryptophan metabolism</text></g>
<g id="n-p0565"><circle class="n w" cx="1041" cy="276" r="4"/><text class="t" x="1041" y="277.8">path:hsa00565</text></g>
<g id="n-glycero"><circle class="n w" cx="911" cy="283" r="4.5"/><text class="t" x="911" y="284.8">Glycerophospholipid metabolism</text></g>
<g id="n-p0340"><circle class="n w" cx="992" cy="283" r="4.5"/><text class="t" x="992" y="284.8">path:hsa00340</text></g>
<g id="n-p1031"><circle class="n w" cx="1053" cy="291" r="5"/><text class="t" x="1053" y="292.8">path:hsa01031</text></g>
<g id="n-p0072"><circle class="n w" cx="720" cy="296" r="4"/><text class="t" x="720" y="297.8">path:hsa00072</text></g>
<g id="n-p0632"><circle class="n w" cx="665" cy="298" r="4"/><text class="t" x="665" y="299.8">path:hsa00632</text></g>
<g id="n-p0400"><circle class="n w" cx="769" cy="297" r="4"/><text class="t" x="769" y="298.8">path:hsa00400</text></g>
<g id="n-p0030"><circle class="n w" cx="926" cy="298" r="4.5"/><text class="t" x="926" y="299.8">path:hsa00030</text></g>
<g id="n-p0053"><circle class="n w" cx="988" cy="300" r="4"/><text class="t" x="988" y="301.8">path:hsa00053</text></g>
<g id="n-p0020"><circle class="n w" cx="813" cy="301" r="4"/><text class="t" x="813" y="302.8">path:hsa00020</text></g>
<g id="n-p0010"><circle class="n w" cx="834" cy="308" r="4.5"/><text class="t" x="834" y="309.8">path:hsa00010</text></g>
<g id="n-p0630"><circle class="n w" cx="883" cy="313" r="4.5"/><text class="t" x="883" y="314.8">path:hsa00630</text></g>
<g id="n-p0780"><circle class="n w" cx="746" cy="315" r="4"/><text class="t" x="746" y="316.8">path:hsa00780</text></g>
<g id="n-p0440"><circle class="n w" cx="791" cy="318" r="4"/><text class="t" x="791" y="319.8">path:hsa00440</text></g>
<g id="n-balan"><circle class="n l2" cx="867" cy="326" r="4.5"/><text class="t" x="867" y="327.8">beta-Alanine metabolism</text></g>
<g id="n-gslg"><circle class="n w" cx="1067" cy="331" r="4.5"/><text class="t" x="1067" y="332.8">Glycosphingolipid biosynthesis - ganglioseries</text></g>
<g id="n-p0071"><circle class="n w" cx="798" cy="336" r="4.5"/><text class="t" x="798" y="337.8">path:hsa00071</text></g>
<g id="n-p0190"><circle class="n w" cx="997" cy="338" r="4"/><text class="t" x="997" y="339.8">path:hsa00190</text></g>
<g id="n-p0220"><circle class="n w" cx="918" cy="339" r="4"/><text class="t" x="918" y="340.8">path:hsa00220</text></g>
<g id="n-p0620"><circle class="n w" cx="777" cy="344" r="4"/><text class="t" x="777" y="345.8">path:hsa00620</text></g>
<g id="n-p0602"><circle class="n w" cx="1030" cy="345" r="5.5"/><text class="t" x="1030" y="346.8">path:hsa00602</text></g>
<g id="n-p0300"><circle class="n w" cx="721" cy="348" r="4"/><text class="t" x="721" y="349.8">path:hsa00300</text></g>
<g id="n-p0240"><circle class="n w" cx="937" cy="349" r="4.5"/><text class="t" x="937" y="350.8">path:hsa00240</text></g>
<g id="n-glycerol"><circle class="n l0" cx="828" cy="353" r="5"/><text class="t" x="828" y="354.8">Glycerolipid metabolism</text></g>
<g id="n-p0760"><circle class="n w" cx="760" cy="357" r="4"/><text class="t" x="760" y="358.8">path:hsa00760</text></g>
<g id="n-p0230"><circle class="n w" cx="959" cy="360" r="5"/><text class="t" x="959" y="361.8">path:hsa00230</text></g>
<g id="n-p0670"><circle class="n w" cx="832" cy="371" r="4"/><text class="t" x="832" y="372.8">path:hsa00670</text></g>
<g id="n-p0642"><circle class="n w" cx="768" cy="373" r="4.5"/><text class="t" x="768" y="374.8">path:hsa00642</text></g>
<g id="n-arg"><circle class="n l0" cx="922" cy="374" r="12"/><text class="t" x="922" y="375.8">Arginine and proline metabolism</text></g>
<g id="n-gslgl"><circle class="n w" cx="1047" cy="375" r="5"/><text class="t" x="1047" y="376.8">Glycosphingolipid biosynthesis - globoseries</text></g>
<g id="n-p0640"><circle class="n w" cx="863" cy="377" r="4.5"/><text class="t" x="863" y="378.8">path:hsa00640</text></g>
<g id="n-p0600"><circle class="n w" cx="973" cy="379" r="4.5"/><text class="t" x="973" y="380.8">path:hsa00600</text></g>
<g id="n-p0061"><circle class="n w" cx="730" cy="382" r="4.5"/><text class="t" x="730" y="383.8">path:hsa00061</text></g>
<g id="n-ppar"><circle class="n b2" cx="627" cy="394" r="12.5"/><text class="t" x="627" y="395.8">PPAR signaling</text></g>
<g id="n-glut"><circle class="n l2" cx="945" cy="394" r="4.5"/><text class="t" x="945" y="395.8">Glutamate metabolism</text></g>
<g id="n-alan"><circle class="n l2" cx="861" cy="403" r="5"/><text class="t" x="861" y="404.8">Alanine and aspartate metabolism</text></g>
<g id="n-p0601"><circle class="n w" cx="1020" cy="403" r="7"/><text class="t" x="1020" y="404.8">path:hsa00601</text></g>
<g id="n-styr"><circle class="n l0" cx="787" cy="409" r="4.5"/><text class="t" x="787" y="410.8">Styrene degradation</text></g>
<g id="n-p0250"><circle class="n w" cx="896" cy="414" r="4.5"/><text class="t" x="896" y="415.8">path:hsa00250</text></g>
<g id="n-p0450"><circle class="n w" cx="1000" cy="417" r="4"/><text class="t" x="1000" y="418.8">path:hsa00450</text></g>
<g id="n-p0770"><circle class="n w" cx="816" cy="426" r="4.5"/><text class="t" x="816" y="427.8">path:hsa00770</text></g>
<g id="n-p0480"><circle class="n w" cx="912" cy="432" r="4.5"/><text class="t" x="912" y="433.8">path:hsa00480</text></g>
<g id="n-p0290"><circle class="n w" cx="758" cy="436" r="4.5"/><text class="t" x="758" y="437.8">path:hsa00290</text></g>
<g id="n-p0730"><circle class="n w" cx="891" cy="449" r="4.5"/><text class="t" x="891" y="450.8">path:hsa00730</text></g>
<g id="n-p0280"><circle class="n w" cx="816" cy="457" r="4.5"/><text class="t" x="816" y="458.8">path:hsa00280</text></g>
<g id="n-p0272"><circle class="n w" cx="942" cy="459" r="4.5"/><text class="t" x="942" y="460.8">path:hsa00272</text></g>
<g id="n-bile"><circle class="n w" cx="704" cy="460" r="4.5"/><text class="t" x="704" y="461.8">Bile acid biosynthesis</text></g>
<g id="n-p0062"><circle class="n w" cx="772" cy="464" r="4.5"/><text class="t" x="772" y="465.8">path:hsa00062</text></g>
<g id="n-gluta"><circle class="n g" cx="989" cy="467" r="9"/><text class="t" x="989" y="468.8">Glutathione metabolism</text></g>
<g id="n-p0100"><circle class="n w" cx="794" cy="486" r="4.5"/><text class="t" x="794" y="487.8">path:hsa00100</text></g>
<g id="n-andro"><circle class="n b2" cx="728" cy="497" r="8"/><text class="t" x="728" y="498.8">Androgen and estrogen metabolism</text></g>
<g id="n-porph"><circle class="n l1" cx="859" cy="498" r="6"/><text class="t" x="859" y="499.8">Porphyrin and chlorophyll metabolism</text></g>
<g id="n-p0271"><circle class="n w" cx="946" cy="512" r="5.5"/><text class="t" x="946" y="513.8">path:hsa00271</text></g>
<g id="n-c21"><circle class="n g" cx="770" cy="519" r="11"/><text class="t" x="770" y="520.8">C21-Steroid hormone metabolism</text></g>
<g id="n-taurine"><circle class="n g" cx="920" cy="553" r="4.5"/><text class="t" x="920" y="554.8">Taurine metabolism</text></g>
</g>
<g id="legend">
<g fill="none" stroke="#111" stroke-width="1">
<circle cx="102" cy="426.5" r="3.5"/><circle cx="119.5" cy="426.5" r="7.5"/><circle cx="144.5" cy="426.5" r="12"/><circle cx="177" cy="426.5" r="16.5"/><circle cx="217.5" cy="426.5" r="20.5"/>
</g>
<g class="lg" font-size="9.5" text-anchor="middle">
<text x="102" y="459">0</text><text x="120" y="459">1-5</text><text x="143.5" y="459">6-14</text><text x="177" y="459">15-26</text><text x="220" y="459">27-59</text>
</g>
<rect x="102.5" y="463.5" width="131" height="21" fill="url(#cg)" stroke="#333" stroke-width=".6"/>
<text class="lg" x="99" y="500" font-size="12">0</text>
<text class="lg" x="234" y="500" font-size="12" text-anchor="end">659</text>
</g>
</svg>
